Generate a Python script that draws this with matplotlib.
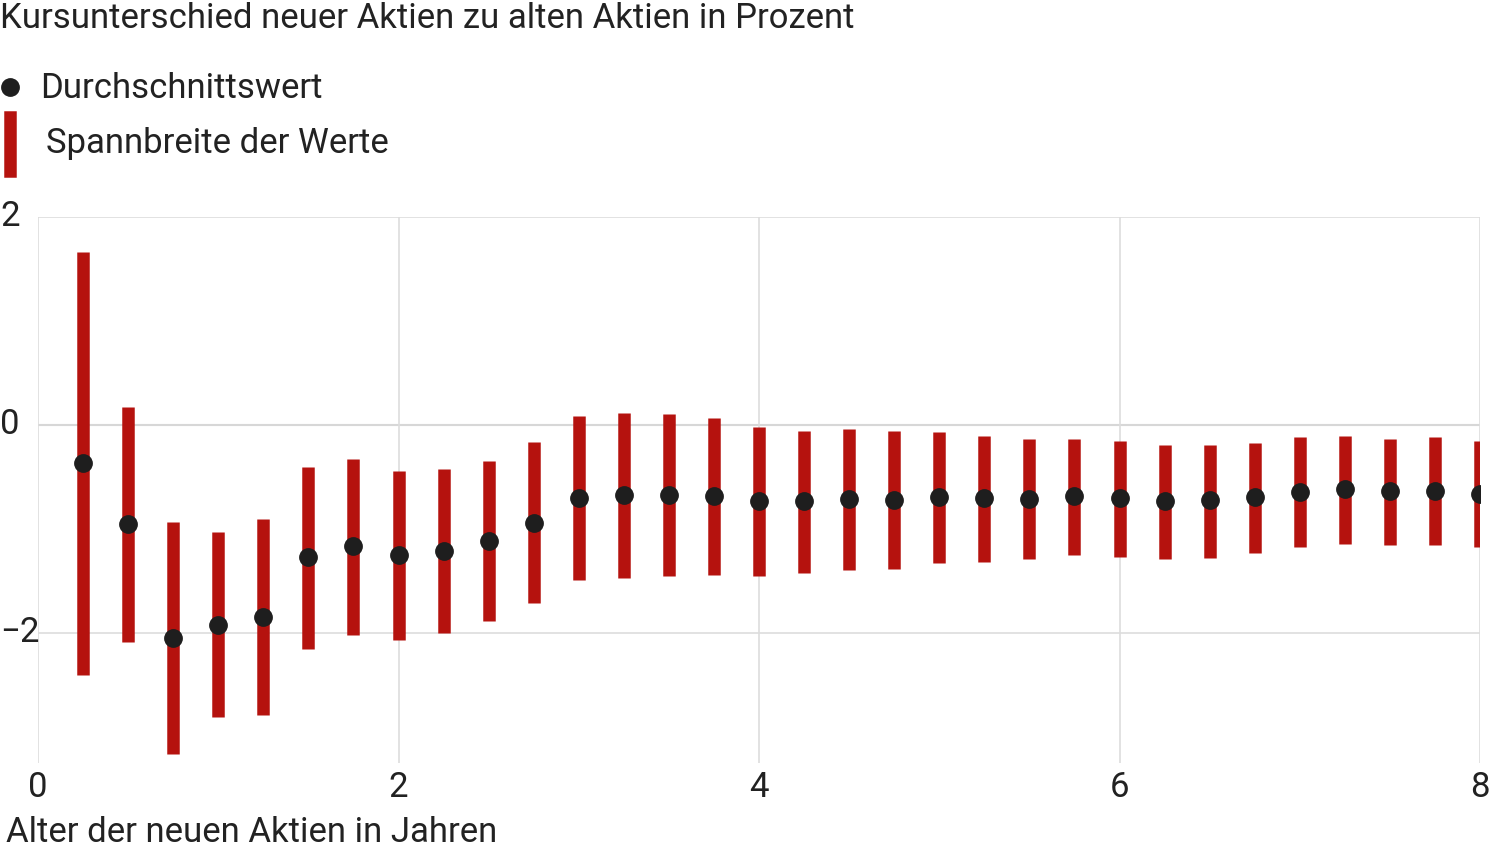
import matplotlib.pyplot as plt
from matplotlib.lines import Line2D
from matplotlib.transforms import blended_transform_factory

plt.rcParams["font.family"] = "Roboto"

ages = [0.25 * (i + 1) for i in range(32)]
mean_vals = [-0.37, -0.95, -2.05, -1.92, -1.85, -1.27, -1.16, -1.25, -1.21, -1.12,
             -0.94, -0.70, -0.67, -0.67, -0.68, -0.73, -0.73, -0.71, -0.72, -0.69,
             -0.70, -0.71, -0.68, -0.70, -0.73, -0.72, -0.69, -0.64, -0.62, -0.63,
             -0.63, -0.66]
range_top = [1.66, 0.17, -0.93, -1.03, -0.90, -0.40, -0.33, -0.44, -0.42, -0.35,
             -0.16, 0.09, 0.12, 0.11, 0.07, -0.02, -0.06, -0.04, -0.06, -0.07,
             -0.11, -0.13, -0.13, -0.15, -0.19, -0.19, -0.17, -0.12, -0.11, -0.13,
             -0.12, -0.15]
range_bottom = [-2.40, -2.09, -3.16, -2.81, -2.79, -2.15, -2.02, -2.07, -2.00, -1.88,
                -1.71, -1.49, -1.47, -1.45, -1.44, -1.45, -1.42, -1.39, -1.38, -1.33,
                -1.32, -1.29, -1.25, -1.27, -1.29, -1.28, -1.23, -1.17, -1.14, -1.15,
                -1.15, -1.17]
x_ticks = [0, 2, 4, 6, 8]
y_ticks = [-2, 0, 2]
y_labels = ["\u22122", "0", "2"]

RED = "#b5120e"
DOT = "#1e1e1e"
TXT = "#222222"
FS = 25

fig = plt.figure(figsize=(15, 8.52), dpi=100)
ax = fig.add_axes([38 / 1500, 1 - 763 / 852, 1442 / 1500, (763 - 217) / 852])

ax.vlines(ages, range_bottom, range_top, color=RED, linewidth=9, zorder=3)
ax.plot(ages, mean_vals, "o", color=DOT, markersize=12.5, zorder=4)

ax.set_xlim(0, 8)
ax.set_ylim(-3.25, 2)
ax.set_xticks(x_ticks)
ax.set_yticks(y_ticks)
ax.set_yticklabels([])
ax.grid(True, color="#dddddd", linewidth=1.2, zorder=0)
ax.axhline(0, color="#bbbbbb", linewidth=1.5, zorder=1)
for s in ax.spines.values():
    s.set_visible(False)
ax.tick_params(length=0, labelsize=FS, colors=TXT)
ax.tick_params(axis="x", pad=6)

trans = blended_transform_factory(fig.transFigure, ax.transData)
for yv, lab in zip(y_ticks, y_labels):
    ax.text(0.0, yv, lab, transform=trans, fontsize=FS, color=TXT,
            ha="left", va="center", clip_on=False)

fig.text(0.0, 1 - 18 / 852, "Kursunterschied neuer Aktien zu alten Aktien in Prozent",
         fontsize=FS, va="center", ha="left", color=TXT)
fig.text(6 / 1500, 1 - 832 / 852, "Alter der neuen Aktien in Jahren",
         fontsize=FS, va="center", ha="left", color=TXT)

# legend
fig.add_artist(Line2D([10 / 1500], [1 - 87 / 852], marker="o", color=DOT,
                      markersize=12.5, linestyle="none", transform=fig.transFigure))
fig.text(40 / 1500, 1 - 89 / 852, "Durchschnittswert", fontsize=FS,
         va="center", ha="left", color=TXT)
fig.add_artist(Line2D([10 / 1500, 10 / 1500], [1 - 117 / 852, 1 - 171 / 852],
                      color=RED, linewidth=9, transform=fig.transFigure))
fig.text(46 / 1500, 1 - 144 / 852, "Spannbreite der Werte", fontsize=FS,
         va="center", ha="left", color=TXT)

fig.savefig("out.png", dpi=100)
